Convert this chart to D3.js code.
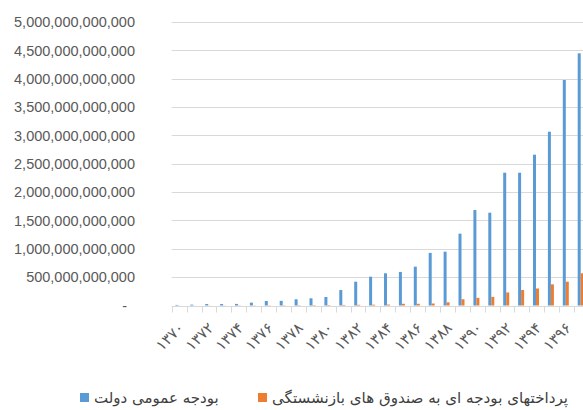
<!DOCTYPE html>
<html>
<head>
<meta charset="utf-8">
<script src="https://cdn.jsdelivr.net/npm/d3@7/dist/d3.min.js"></script>
<style>
html,body{margin:0;padding:0;background:#fff;overflow:hidden;}
svg{display:block;}
</style>
</head>
<body>
<svg id="chart" width="583" height="410"></svg>
<script>
const categories = ['۱۳۷۰','۱۳۷۱','۱۳۷۲','۱۳۷۳','۱۳۷۴','۱۳۷۵','۱۳۷۶','۱۳۷۷','۱۳۷۸','۱۳۷۹',
  '۱۳۸۰','۱۳۸۱','۱۳۸۲','۱۳۸۳','۱۳۸۴','۱۳۸۵','۱۳۸۶','۱۳۸۷','۱۳۸۸','۱۳۸۹',
  '۱۳۹۰','۱۳۹۱','۱۳۹۲','۱۳۹۳','۱۳۹۴','۱۳۹۵','۱۳۹۶','۱۳۹۷'];
const tickLabels = ['۱۳۷۰','۱۳۷۲','۱۳۷۴','۱۳۷۶','۱۳۷۸','۱۳۸۰','۱۳۸۲','۱۳۸۴','۱۳۸۶','۱۳۸۸','۱۳۹۰','۱۳۹۲','۱۳۹۴','۱۳۹۶'];
// values in billions of rials
const generalBudget = [10,15,26,26,28,50,80,82,110,127,150,273,420,508,568,592,685,928,949,1267,1684,1637,2342,2342,2660,3065,3977,4448];
const pensionPayments = [1,1,2,2,3,3,4,5,6,7,8,10,12,14,16,30,30,35,56,110,135,152,230,273,300,373,420,568];
const yTicks = [0,500e9,1000e9,1500e9,2000e9,2500e9,3000e9,3500e9,4000e9,4500e9,5000e9];
const seriesNames = ['بودجه عمومی دولت','پرداختهای بودجه ای به صندوق های بازنشستگی'];
const colors = ['#5B9BD5','#ED7D31'];

const svg = d3.select('#chart');
const x0 = 171.7, step = 14.9;
const x = d3.scaleBand().domain(categories).range([x0, x0 + step*categories.length]).paddingInner(0).paddingOuter(0);
const y = d3.scaleLinear().domain([0,5000e9]).range([305.5, 22]);
const xs = d3.scaleBand().domain([0,1]).range([3.7, 9.7]).paddingInner(0).paddingOuter(0);

const fmt = d3.format(',.0f');
// gridlines
svg.append('g').selectAll('line').data(yTicks.slice(1)).join('line')
  .attr('x1', x0).attr('x2', 600)
  .attr('y1', d => Math.round(y(d))+0.5).attr('y2', d => Math.round(y(d))+0.5)
  .attr('stroke', '#d9d9d9').attr('stroke-width', 1);

// y labels
svg.append('g').selectAll('text').data(yTicks).join('text')
  .attr('x', d => d === 0 ? 127 : 135)
  .attr('y', d => y(d))
  .attr('dy', '0.36em')
  .attr('text-anchor', 'end')
  .attr('font-family', 'Liberation Sans, Arial, sans-serif')
  .attr('font-size', 14.5)
  .attr('fill', '#595959')
  .text(d => d === 0 ? '-' : fmt(d));

// bars
const series = [generalBudget, pensionPayments];
series.forEach((vals, si) => {
  svg.append('g').selectAll('rect').data(vals).join('rect')
    .attr('x', (d,i) => x(categories[i]) + xs(si))
    .attr('width', xs.bandwidth())
    .attr('y', d => y(d*1e9))
    .attr('height', d => y(0) - y(d*1e9))
    .attr('fill', colors[si]);
});

// x axis
const ax = svg.append('g').attr('transform', `translate(0,${Math.round(y(0))+0.5})`);
ax.append('line').attr('x1', x0).attr('x2', 600).attr('stroke', '#d9d9d9');
ax.selectAll('line.t').data(d3.range(categories.length+1)).join('line').attr('class','t')
  .attr('x1', i => Math.round(x0 + i*step)+0.5).attr('x2', i => Math.round(x0 + i*step)+0.5)
  .attr('y1', 0).attr('y2', 6).attr('stroke', '#d9d9d9');

svg.append('g').selectAll('text').data(tickLabels).join('text')
  .attr('transform', d => `translate(${x(d) + x.bandwidth()/2 + 2},${325}) rotate(-45)`)
  .attr('text-anchor', 'end')
  .attr('dy', '0.35em')
  .attr('font-family', 'DejaVu Sans, sans-serif')
  .attr('font-size', 15)
  .attr('fill', '#595959')
  .text(d => d);

// legend
const leg = svg.append('g').attr('font-family', 'DejaVu Sans, sans-serif').attr('font-size', 15).attr('fill', '#404040');
const legendItems = [{sq: 80, tx: 94, w: null, i: 0}, {sq: 258, tx: 272, w: 296, i: 1}];
legendItems.forEach(it => {
  leg.append('rect').attr('x', it.sq).attr('y', 393).attr('width', 9).attr('height', 9).attr('fill', colors[it.i]);
  const t = leg.append('text').attr('x', it.tx).attr('y', 397.5).attr('dy', '0.35em')
    .attr('text-anchor', 'start').attr('direction', 'ltr')
    .text(seriesNames[it.i]);
  if (it.w) t.attr('textLength', it.w).attr('lengthAdjust', 'spacingAndGlyphs');
});
</script>
</body>
</html>
